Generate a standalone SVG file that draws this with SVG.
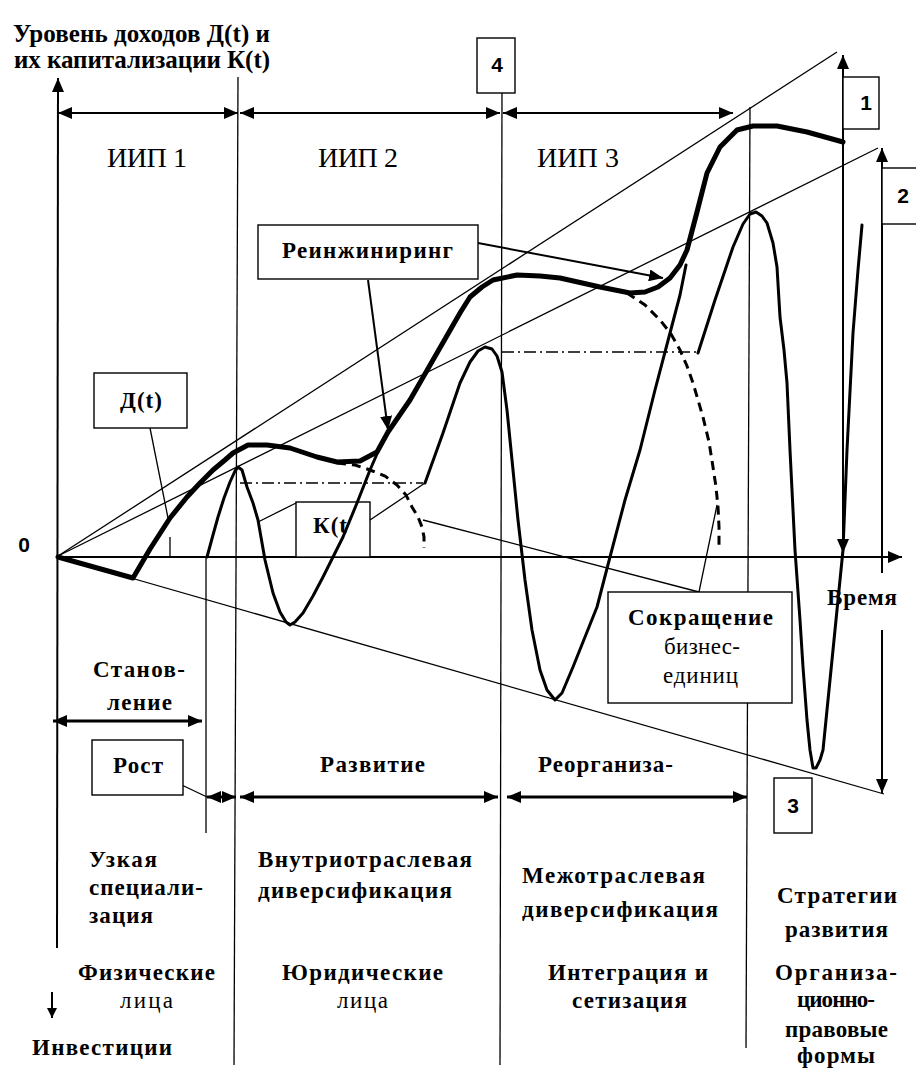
<svg xmlns="http://www.w3.org/2000/svg" width="916" height="1070" viewBox="0 0 916 1070">
<style>
.ln{stroke:#000;stroke-width:1.3;fill:none}
.ax{stroke:#000;stroke-width:2;fill:none}
.ar{stroke:#000;stroke-width:2;fill:none}
.ar3{stroke:#000;stroke-width:3;fill:none}
.box{fill:#fff;stroke:#000;stroke-width:1.4}
.D{stroke:#000;stroke-width:5;fill:none;stroke-linejoin:round;stroke-linecap:round}
.K{stroke:#000;stroke-width:3;fill:none;stroke-linejoin:round;stroke-linecap:round}
.dash{stroke:#000;stroke-width:3;fill:none;stroke-dasharray:9 6}
.dd{stroke:#000;stroke-width:1.5;fill:none;stroke-dasharray:12 4 2 4}
.t{font-family:"Liberation Serif","Times New Roman",serif;font-size:23px;fill:#000}
.b{font-weight:bold}
.big{font-size:28px}
.ttl{font-size:25px}
.n{font-family:"Liberation Sans",Arial,sans-serif;font-weight:bold;font-size:21px;fill:#000}
</style>
<defs>
<marker id="ah" viewBox="0 0 14 12" refX="14" refY="6" markerWidth="14" markerHeight="12" orient="auto-start-reverse" markerUnits="userSpaceOnUse"><path d="M0,0 L14,6 L0,12 z" fill="#000"/></marker>
<marker id="ahs" viewBox="0 0 10 10" refX="10" refY="5" markerWidth="10" markerHeight="10" orient="auto-start-reverse" markerUnits="userSpaceOnUse"><path d="M0,0 L10,5 L0,10 z" fill="#000"/></marker>
</defs>
<rect width="916" height="1070" fill="#fff"/>

<g id="axes">
<line class="ax" x1="57" y1="948" x2="58" y2="78" marker-end="url(#ah)"/>
<line class="ax" x1="58" y1="557" x2="902" y2="557" marker-end="url(#ah)"/>
<line class="ax" x1="52" y1="992" x2="52" y2="1018" marker-end="url(#ahs)"/>
</g>

<g id="guides">
<line class="ln" x1="238" y1="77" x2="234" y2="1065"/>
<line class="ln" x1="206" y1="557" x2="206" y2="833"/>
<line class="ln" x1="502" y1="93" x2="500" y2="1065"/>
<line class="ln" x1="750" y1="107" x2="746" y2="1048"/>
<line class="ln" x1="58" y1="556" x2="837" y2="52"/>
<line class="ln" x1="58" y1="556" x2="878" y2="148"/>
<line class="ln" x1="58" y1="557" x2="884" y2="794"/>
<line class="dd" x1="240" y1="483" x2="423" y2="483"/>
<line class="dd" x1="502" y1="352" x2="698" y2="352"/>
</g>

<g id="node-kt">
<rect class="box" x="296" y="502" width="74" height="55"/>
<text class="t b" x="313" y="533" textLength="34">К(t</text>
</g>

<g id="curves">
<polyline class="D" points="58,557 133,578 150,549 170,518 187,497 200,483 213,470 225,460 233,453 248,445 267,445 290,448 317,457 337,462 360,461 377,452 388,432 410,400 437,353 460,313 470,297 482,287 493,280 517,275 540,276 560,278 600,287 630,293 645,292 658,287 670,278 680,265 687,250 697,212 707,173 720,147 737,130 753,126 777,126 807,132 843,142"/>
<polyline class="K" points="207,557 213,535 218,517 224,498 230,482 235,471 238,467 242,470 247,487 253,503 258,520 265,560 273,593 280,612 286,622 290,625 295,622 303,613 313,596 323,577 333,557 343,537 357,503 370,470 380,447 388,432"/>
<polyline class="K" points="425,483 443,433 460,383 470,362 478,351 485,347 492,349 497,356 502,372 507,410 512,460 518,520 525,580 532,630 540,670 547,690 555,700 562,693 573,667 585,637 597,607 610,557 625,500 640,450 655,390 670,333 680,295 686,265"/>
<polyline class="K" points="698,353 715,300 733,247 743,224 750,214 756,212 762,216 767,223 773,243 777,267 780,317 784,350 787,383 790,450 795,550 800,620 803,667 807,720 810,750 813,768 816,768 820,760 823,750 828,700 833,650 838,600 843,550 847,450 853,333 858,270 862,225"/>
<polyline class="dash" points="337,463 355,465 370,470 385,476 397,485 406,495 412,507 418,517 422,527 424,537 424,548"/>
<polyline class="dash" points="627,293 645,305 660,320 671,334 680,350 687,366 693,383 698,400 703,417 709,442 713,467 716,487 718,507 719,527 719,547"/>
</g>

<g id="connectors">
<line class="ar" x1="58" y1="113" x2="238" y2="113" marker-start="url(#ah)" marker-end="url(#ah)"/>
<line class="ar" x1="240" y1="113" x2="500" y2="113" marker-start="url(#ah)" marker-end="url(#ah)"/>
<line class="ar" x1="503" y1="113" x2="733" y2="113" marker-start="url(#ah)" marker-end="url(#ah)"/>
<line class="ar3" x1="53" y1="721" x2="202" y2="721" marker-start="url(#ah)" marker-end="url(#ah)"/>
<line class="ar3" x1="207" y1="797" x2="236" y2="797" marker-start="url(#ah)" marker-end="url(#ah)"/>
<line class="ar3" x1="240" y1="797" x2="498" y2="797" marker-start="url(#ah)" marker-end="url(#ah)"/>
<line class="ar3" x1="507" y1="797" x2="747" y2="797" marker-start="url(#ah)" marker-end="url(#ah)"/>
<line class="ar" x1="843" y1="553" x2="843" y2="55" marker-start="url(#ah)" marker-end="url(#ah)"/>
<line class="ar" x1="882" y1="573" x2="882" y2="148" marker-end="url(#ah)"/>
<line class="ar" x1="882" y1="630" x2="882" y2="793" marker-end="url(#ah)"/>
<line class="ar" x1="478" y1="243" x2="663" y2="278" marker-end="url(#ah)"/>
<line class="ar" x1="368" y1="280" x2="388" y2="430" marker-end="url(#ah)"/>
<line class="ln" x1="150" y1="428" x2="168" y2="518"/>
<line class="ln" x1="170" y1="537" x2="170" y2="556"/>
<line class="ln" x1="296" y1="503" x2="258" y2="522"/>
<line class="ln" x1="370" y1="520" x2="425" y2="483"/>
<line class="ln" x1="699" y1="592" x2="717" y2="505"/>
<line class="ln" x1="699" y1="592" x2="423" y2="520"/>
<line class="ln" x1="167" y1="778" x2="207" y2="797"/>
</g>

<g id="node-d">
<rect class="box" x="94" y="373" width="93" height="55"/>
<text class="t b" x="120" y="408" textLength="42">Д(t)</text>
</g>
<g id="node-reeng">
<rect class="box" x="258" y="225" width="220" height="54"/>
<text class="t b" x="282" y="258" textLength="171">Реинжиниринг</text>
</g>
<g id="node-sokr">
<rect class="box" x="608" y="592" width="184" height="111"/>
<text class="t b" x="628" y="625" textLength="145">Сокращение</text>
<text class="t" x="664" y="654" textLength="76">бизнес-</text>
<text class="t" x="663" y="683" textLength="75">единиц</text>
</g>
<g id="node-rost">
<rect class="box" x="92" y="740" width="91" height="55"/>
<text class="t b" x="113" y="773" textLength="50">Рост</text>
</g>
<g id="node-1"><rect class="box" x="843" y="77" width="36" height="52"/><text class="n" x="866" y="110" text-anchor="middle">1</text></g>
<g id="node-2"><rect class="box" x="882" y="168" width="40" height="56"/><text class="n" x="903" y="203" text-anchor="middle">2</text></g>
<g id="node-3"><rect class="box" x="774" y="778" width="38" height="55"/><text class="n" x="793" y="813" text-anchor="middle">3</text></g>
<g id="node-4"><rect class="box" x="477" y="38" width="38" height="55"/><text class="n" x="497" y="72" text-anchor="middle">4</text></g>

<g id="labels">
<text class="t b ttl" x="13" y="42" textLength="257">Уровень доходов Д(t) и</text>
<text class="t b ttl" x="14" y="68" textLength="256">их капитализации К(t)</text>
<text class="n" x="24" y="552" text-anchor="middle">0</text>
<text class="t big" x="107" y="167" textLength="80">ИИП 1</text>
<text class="t big" x="318" y="167" textLength="80">ИИП 2</text>
<text class="t big" x="537" y="167" textLength="82">ИИП 3</text>
<text class="t b" x="827" y="605" textLength="70">Время</text>
<text class="t b" x="93" y="677" textLength="92">Станов-</text>
<text class="t b" x="107" y="710" textLength="65">ление</text>
<text class="t b" x="320" y="772" textLength="105">Развитие</text>
<text class="t b" x="538" y="772" textLength="135">Реорганиза-</text>
<text class="t b" x="89" y="867" textLength="68">Узкая</text>
<text class="t b" x="89" y="895" textLength="114">специали-</text>
<text class="t b" x="89" y="923" textLength="64">зация</text>
<text class="t b" x="258" y="867" textLength="214">Внутриотраслевая</text>
<text class="t b" x="258" y="898" textLength="194">диверсификация</text>
<text class="t b" x="522" y="883" textLength="183">Межотраслевая</text>
<text class="t b" x="522" y="917" textLength="196">диверсификация</text>
<text class="t b" x="777" y="903" textLength="120">Стратегии</text>
<text class="t b" x="785" y="937" textLength="103">развития</text>
<text class="t b" x="78" y="980" textLength="137">Физические</text>
<text class="t" x="120" y="1008" textLength="53">лица</text>
<text class="t b" x="282" y="980" textLength="161">Юридические</text>
<text class="t" x="337" y="1008" textLength="51">лица</text>
<text class="t b" x="548" y="980" textLength="160">Интеграция и</text>
<text class="t b" x="572" y="1008" textLength="115">сетизация</text>
<text class="t b" x="775" y="980" textLength="122">Организа-</text>
<text class="t b" x="797" y="1007" textLength="78">ционно-</text>
<text class="t b" x="785" y="1037" textLength="103">правовые</text>
<text class="t b" x="797" y="1063" textLength="78">формы</text>
<text class="t b" x="32" y="1055" textLength="140">Инвестиции</text>
</g>
</svg>
